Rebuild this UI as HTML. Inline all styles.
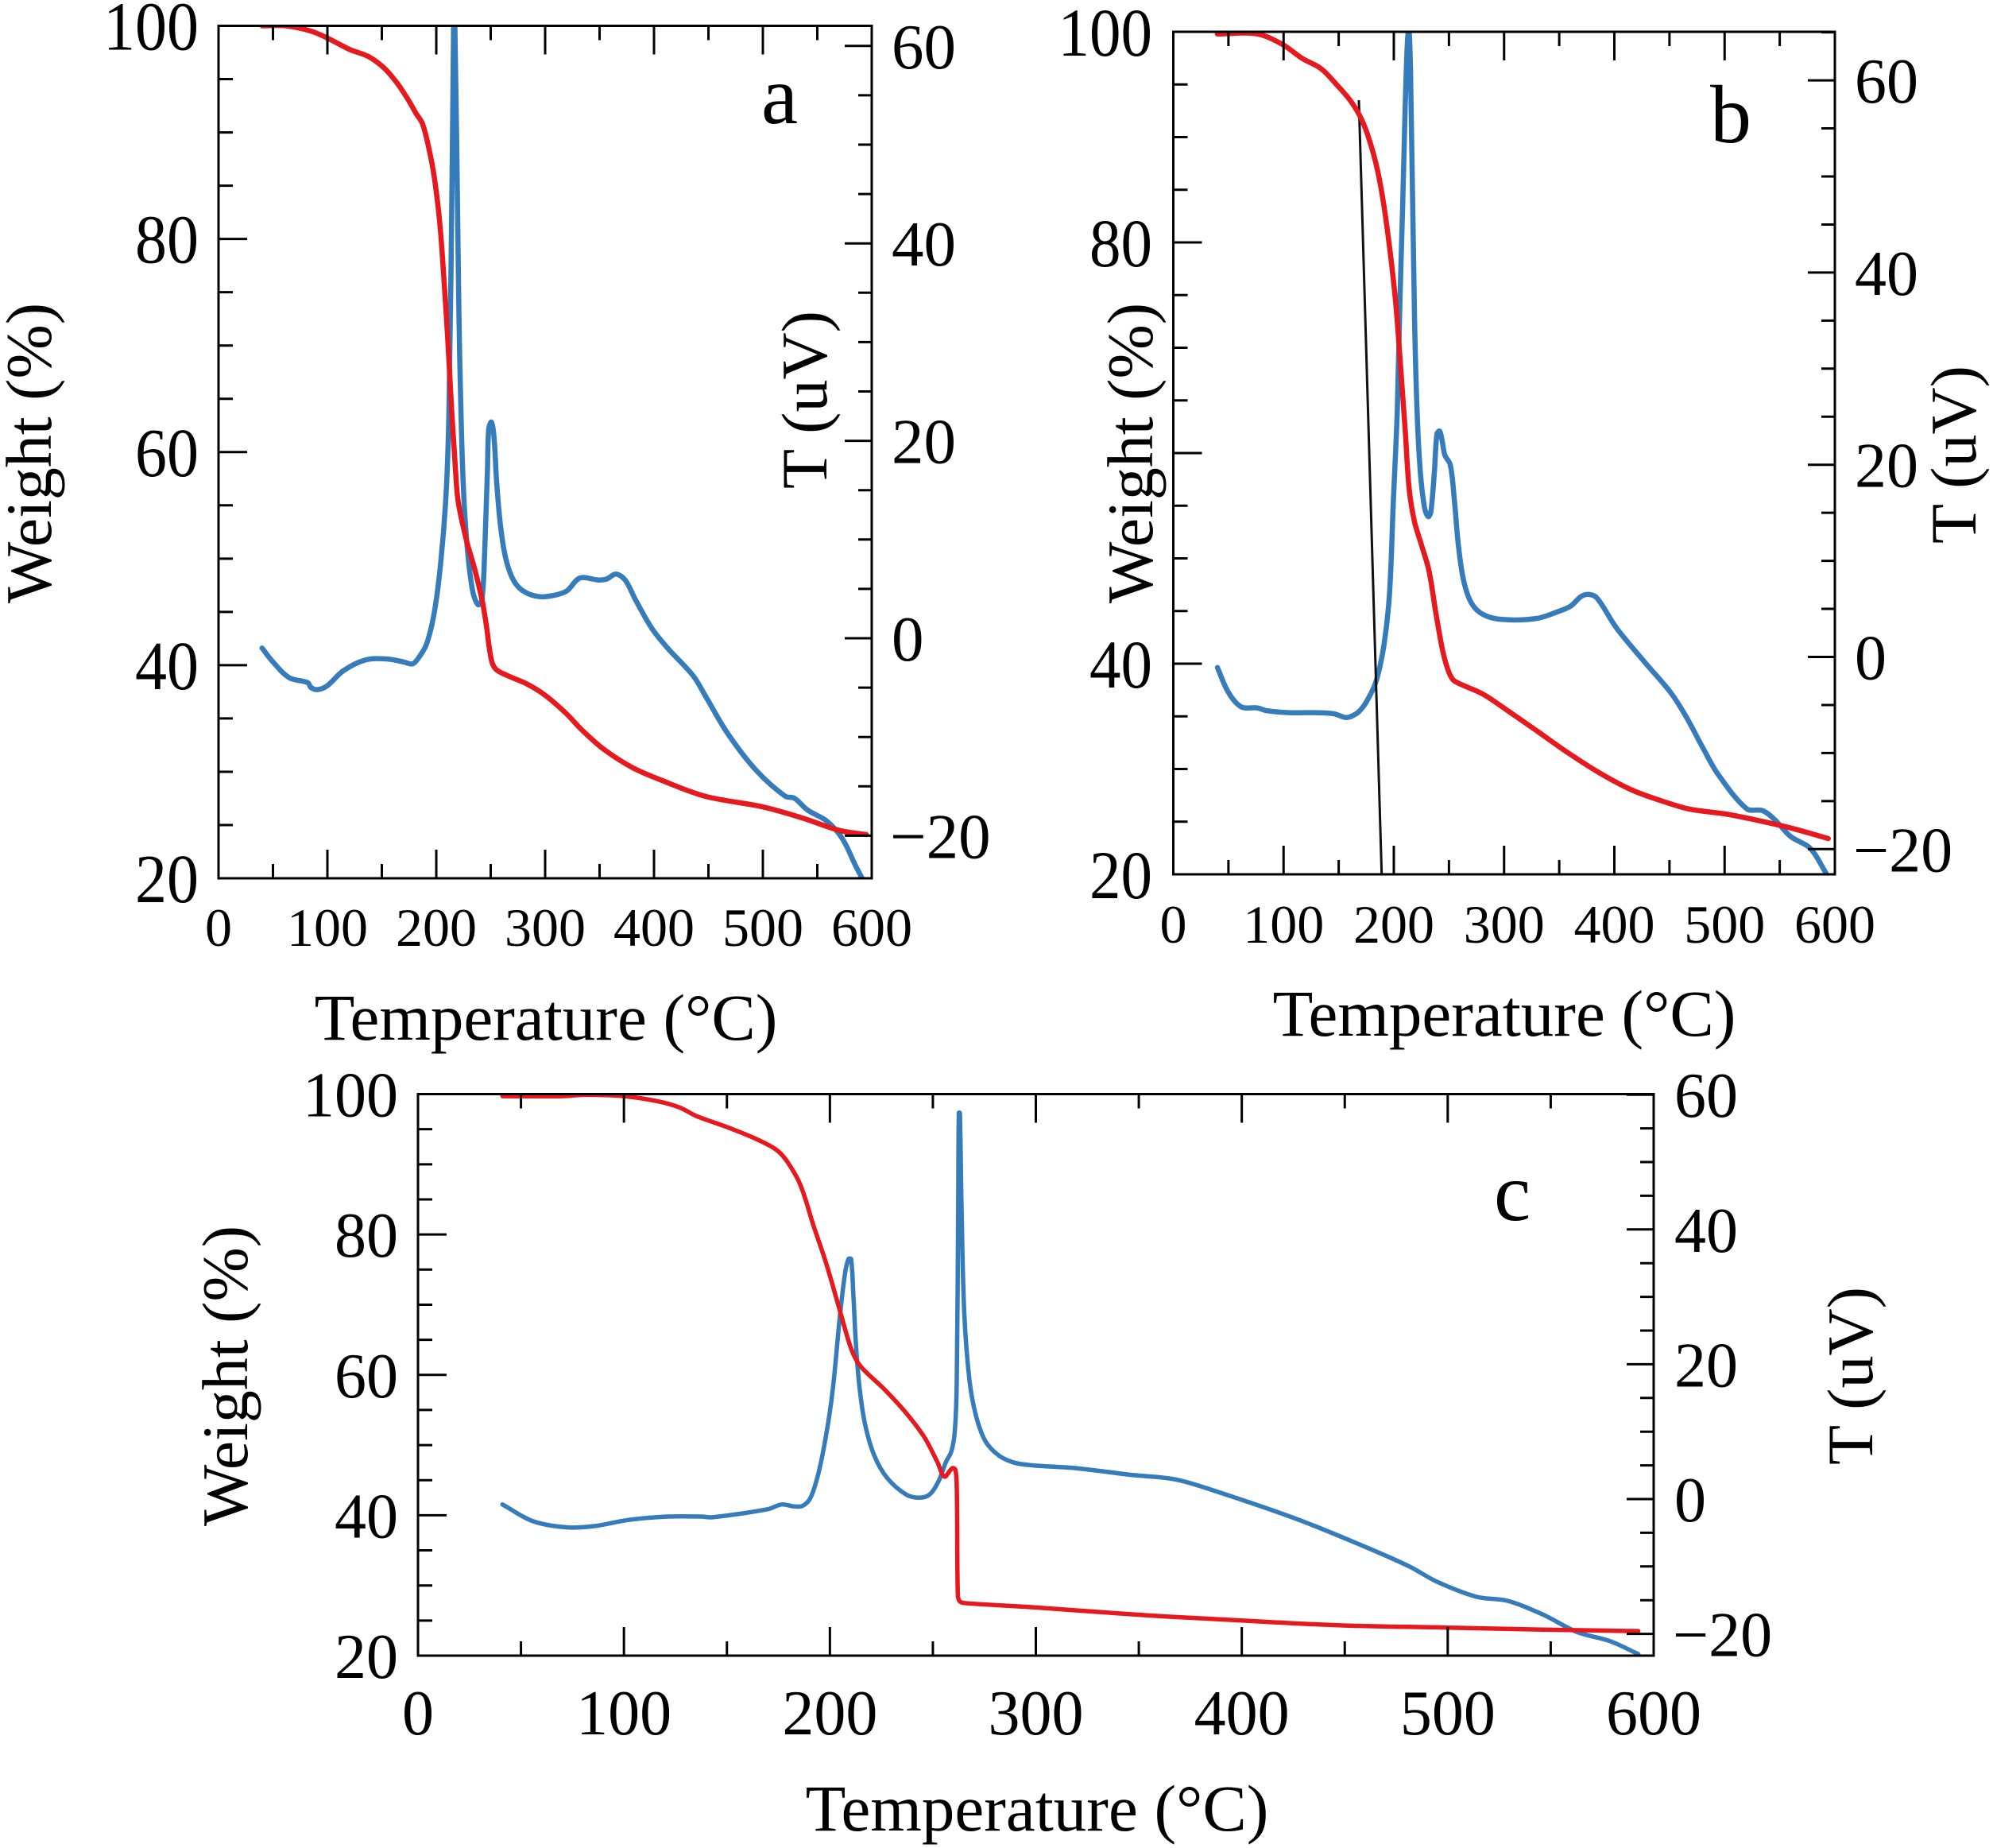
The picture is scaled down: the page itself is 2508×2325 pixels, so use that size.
<!DOCTYPE html>
<html>
<head>
<meta charset="utf-8">
<title>TGA and DTA curves</title>
<style>
html,body{margin:0;padding:0;background:#fff;}
svg{display:block;}
text{font-family:"Liberation Serif",serif;fill:#000;}
</style>
</head>
<body>
<svg id="chart" xmlns="http://www.w3.org/2000/svg" width="2508" height="2325" viewBox="0 0 2508 2325"></svg>
<script>
const xTicks = [0, 100, 200, 300, 400, 500, 600];
const weightTicks = [20, 40, 60, 80, 100];
const weightTicksPanelB = [20, 40, 80, 100];
const tempTicks = [-20, 0, 20, 40, 60];

const aRedX = [40,62,85,103,120,138,152.5,164.2,174,181.3,187.4,193.4,198.3,203.2,206.8,210.4,214.1,217.7,220.2,227.5,234.8,242.1,245.8,250.6,255,266,284,301,319,334,354,380,407,447,500,535,570,595];
const aRedW = [100,100,99.5,98.7,97.8,97.1,96,94.6,93.1,91.8,90.8,88.4,85.7,81.5,76.6,70.9,64,58.3,55.3,51.8,49.2,46.1,43.9,40.5,39.6,39,38.2,37.1,35.5,33.9,32.1,30.4,29.2,27.7,26.7,25.7,24.5,24.1];
const aBlueX = [40,50,65,82,85,91,100,114.5,135,155,170,178,183,191,198.3,204.4,209.2,211.7,213.6,214.8,215.8,216.4,217.3,218.8,220.7,222.6,225,228.7,233.6,238.4,242,244.5,247,248.2,250.6,253,255.5,259.1,264,271.3,281,295.6,310.2,320,332,349,356.4,365,373.5,383,398,412.5,436,447.5,468,494,520.5,529,541,558.5,573,585,593.5];
const aBlueT = [-1,-2.4,-4,-4.5,-5,-5.2,-4.8,-3.3,-2.2,-2.1,-2.4,-2.6,-2.1,-0.6,2.7,8,15,23.2,37.6,49.9,60.6,66,60.6,49.9,33.5,23.2,15,8.9,4.7,3.4,3.9,8.9,17,21.2,21.9,20.4,15.8,11.3,8,5.8,4.7,4.2,4.4,4.8,6.1,5.9,6,6.5,5.9,3.9,1,-1,-3.8,-5.9,-9.7,-13.4,-16,-16.2,-17.4,-18.5,-20.3,-23,-24.8];

const bRedX = [40,76,99,116.5,134,148,161,170.7,177.9,185.1,191.1,197.1,202,206.7,210.3,213.9,218.7,224.7,231.9,238,244,248.8,253.5,259.6,281,305.2,330,358.5,387,416,445,468,502.6,531,560,594];
const bRedW = [99.8,99.8,98.8,97.5,96.5,95,93.4,91.7,89.7,86.9,83.4,78.7,73.9,67.4,62.2,56.6,53.5,51.4,48.8,44.9,41.4,39.5,38.5,38.1,37.1,35.4,33.6,31.5,29.6,28,26.9,26.2,25.7,25.1,24.4,23.4];
const bBlueX = [40,50,61.7,76,85,105,128,145,156,161,168.3,175.5,184,191.1,196,199.5,203.1,205.6,208,210.3,212.3,213.7,215.1,216.8,218.8,221.1,224,227.9,231.2,233.6,236.8,239.1,241.6,244,246.3,251.2,254.8,258.4,263.2,270.4,281.2,298,329.2,348.5,360.5,370,377.3,384.5,402,428,451,465,480,494,520,534.5,546,560,577.6,592];
const bBlueT = [-1.1,-3.7,-5.2,-5.3,-5.6,-5.8,-5.8,-5.9,-6.3,-6.2,-5.7,-4.6,-2.5,1.3,6.5,16,25.5,37.4,46.9,57.3,64,65.4,61.1,49.3,35,25.5,19.3,15.5,14.6,15.1,19.3,23.2,23.5,22.4,21,20,16.5,11.8,8,5.6,4.4,3.9,4,4.7,5.3,6.3,6.5,6.1,3,-0.6,-3.7,-6.2,-9.4,-12.2,-15.8,-16,-17,-18.7,-19.9,-22.5];
const bTangentX = [168.3, 189];
const bTangentW = [93.5, 20];

const cRedX = [41,70,81,100,116,127,135,151,165,175.5,182.9,186.8,191.9,198.3,204.8,210.6,215,226.6,236.9,245.9,252.3,255.6,259.4,260.9,261.6,262.1,262.9,265.2,298.6,351,400,449,500,546,592.5];
const cRedW = [99.7,99.7,99.9,99.7,99,98.1,96.9,95.2,93.5,91.7,88.7,86.2,81.4,75.8,69.2,63.5,61.2,57.9,54.6,51.1,47.5,45.5,46.7,46.5,44,28.8,27.8,27.5,26.9,25.8,25,24.3,24,23.7,23.5];
const cBlueX = [41,56,72.5,86,102,121,137.5,143,170,176.5,182.9,186.8,190.6,194.5,198.3,201.5,204.8,207.3,209,210.3,211.4,212.7,214.4,217,221.5,227.9,236.9,243.3,248.5,253,256.2,259,260.7,261.6,262.3,262.6,263.1,263.9,265.2,267.8,271,275.5,281.9,289.6,298.6,319,346,368,389,427,460,481.4,495,514,529,546,562.6,579,592.5];
const cBlueT = [-0.8,-3.3,-4.2,-4,-3.1,-2.6,-2.6,-2.7,-1.5,-0.8,-1.1,-1,0.2,3.9,9.7,16.5,27,33.4,35.6,35.6,30.2,22.8,16.5,11.2,6.5,3.1,0.7,0.2,0.7,2.8,5.4,7.1,10.2,17.6,43.9,57.3,57.3,43.9,28,17.6,12.3,8.6,6.5,5.4,5,4.6,3.6,2.9,1,-3,-7.1,-10,-12.3,-14.5,-15.1,-17.1,-19.7,-21.1,-23];

const NS = 'http://www.w3.org/2000/svg';
const root = document.getElementById('chart');

function make(parent, tag, attrs, content) {
  const el = document.createElementNS(NS, tag);
  for (const k in attrs) el.setAttribute(k, attrs[k]);
  if (content !== undefined) el.textContent = content;
  parent.appendChild(el);
  return el;
}
function fmt(v) { return v < 0 ? '\u2212' + Math.abs(v) : String(v); }

// Chord-parameterised spline through the points
function smoothPath(xs, ys, sx, sy) {
  const pts = xs.map((x, i) => [sx(x), sy(ys[i])]);
  const n = pts.length;
  const dist = (a, b) => Math.max(Math.hypot(a[0] - b[0], a[1] - b[1]), 0.01);
  const tan = pts.map((p, i) => {
    const a = pts[Math.max(i - 1, 0)];
    const b = pts[Math.min(i + 1, n - 1)];
    const d = (i > 0 ? dist(a, p) : 0) + (i < n - 1 ? dist(p, b) : 0);
    return [(b[0] - a[0]) / d, (b[1] - a[1]) / d];
  });
  let d = 'M' + pts[0][0].toFixed(1) + ' ' + pts[0][1].toFixed(1);
  for (let i = 0; i < n - 1; i++) {
    const len = dist(pts[i], pts[i + 1]) / 3;
    const c1x = pts[i][0] + tan[i][0] * len;
    const c1y = pts[i][1] + tan[i][1] * len;
    const c2x = pts[i + 1][0] - tan[i + 1][0] * len;
    const c2y = pts[i + 1][1] - tan[i + 1][1] * len;
    d += 'C' + c1x.toFixed(1) + ' ' + c1y.toFixed(1) + ' ' + c2x.toFixed(1) + ' ' + c2y.toFixed(1) + ' ' + pts[i + 1][0].toFixed(1) + ' ' + pts[i + 1][1].toFixed(1);
  }
  return d;
}

function drawPanel(p) {
  const g = make(root, 'g', {});
  
  

  const sx = v => p.left + (v - 0) / 600 * (p.right - p.left);
  const sw = v => p.bottom - (v - 20) / 80 * (p.bottom - p.top);
  const st = v => p.t0y - v * p.tScale;

  const clipId = 'clip-' + p.id;
  const defs = make(g, 'defs', {});
  const cp = make(defs, 'clipPath', { id: clipId });
  make(cp, 'rect', { x: p.left, y: p.top - 1, width: p.right - p.left, height: p.bottom - p.top + 2 });

  const blue = make(g, 'path', { d: smoothPath(p.blueX, p.blueT, sx, st), fill: 'none', stroke: '#377cba', 'stroke-width': p.blueW, 'stroke-linejoin': 'round', 'stroke-linecap': 'round', 'clip-path': 'url(#' + clipId + ')' });
  
  

  if (p.tanX) {
    const tan = make(g, 'path', { d: smoothPath(p.tanX, p.tanW, sx, sw), fill: 'none', stroke: '#111', 'stroke-width': 3 });
    
    
  }

  const red = make(g, 'path', { d: smoothPath(p.redX, p.redW, sx, sw), fill: 'none', stroke: '#e61a1e', 'stroke-width': p.redWidth, 'stroke-linejoin': 'round', 'stroke-linecap': 'round', 'clip-path': 'url(#' + clipId + ')' });
  
  

  const ticks = make(g, 'g', { stroke: '#000', 'stroke-width': 3 });
  
  

  xTicks.forEach((v, i) => {
    const x = sx(v);
    make(ticks, 'line', { x1: x, x2: x, y1: p.bottom, y2: p.bottom - 36 });
    make(ticks, 'line', { x1: x, x2: x, y1: p.top, y2: p.top + 36 });
    if (i < xTicks.length - 1) {
      const m = sx((v + xTicks[i + 1]) / 2);
      make(ticks, 'line', { x1: m, x2: m, y1: p.bottom, y2: p.bottom - 18 });
      make(ticks, 'line', { x1: m, x2: m, y1: p.top, y2: p.top + 18 });
    }
    const t = make(g, 'text', { x: x, y: p.xLabelY, 'font-size': p.xFont, 'text-anchor': 'middle' }, fmt(v));
    
    
  });

  // left ticks: major every labelled value, minor every quarter interval
  weightTicks.forEach((v, i) => {
    const y = sw(v);
    make(ticks, 'line', { x1: p.left, x2: p.left + 36, y1: y, y2: y });
    if (i < weightTicks.length - 1) {
      const step = (weightTicks[i + 1] - v) / 4;
      for (let k = 1; k < 4; k++) {
        const m = sw(v + k * step);
        make(ticks, 'line', { x1: p.left, x2: p.left + 18, y1: m, y2: m });
      }
    }
  });
  p.leftLabels.forEach(v => {
    const y = sw(v);
    const t = make(g, 'text', { transform: 'translate(' + p.leftLabelX + ',' + (y + p.leftDy) + ') scale(1,' + p.leftStretch + ')', 'font-size': p.leftFont, 'text-anchor': 'end' }, fmt(v));
    
    
  });

  // right ticks: major at labelled values, minor every quarter interval across the visible range
  const tTop = (p.t0y - p.top) / p.tScale;
  const tBottom = (p.t0y - p.bottom) / p.tScale;
  const tStep = (tempTicks[1] - tempTicks[0]) / 4;
  for (let k = Math.ceil(tBottom / tStep); k * tStep <= tTop; k++) {
    const v = k * tStep;
    const y = st(v);
    const major = tempTicks.indexOf(v) >= 0;
    make(ticks, 'line', { x1: p.right, x2: p.right - (major ? 34 : 17), y1: y, y2: y });
  }
  tempTicks.forEach(v => {
    const t = make(g, 'text', { x: v < 0 ? p.rightLabelX - 2 : p.rightLabelX, y: st(v) + 28, 'font-size': p.rightFont }, fmt(v));
    
    
  });

  const frame = make(g, 'rect', { x: p.left, y: p.top, width: p.right - p.left, height: p.bottom - p.top, fill: 'none', stroke: '#000', 'stroke-width': 3 });
  
  

  const xTitle = make(g, 'text', { x: p.xTitleX, y: p.xTitleY, 'font-size': 83, 'text-anchor': 'middle' }, 'Temperature (\u00b0C)');
  
  

  const wTitle = make(g, 'text', { transform: 'translate(' + p.wTitleX + ',' + p.wTitleY + ') rotate(-90)', 'font-size': 82, 'text-anchor': 'middle' }, 'Weight (%)');
  
  

  const tTitle = make(g, 'text', { transform: 'translate(' + p.tTitleX + ',' + p.tTitleY + ') rotate(-90)', 'font-size': 82, 'text-anchor': 'middle' }, 'T (uV)');
  
  

  const letter = make(g, 'text', { x: p.letterX, y: p.letterY, 'font-size': 104 }, p.id);
  
  
}

drawPanel({
  id: 'a', left: 275, right: 1097, top: 32.5, bottom: 1105, t0y: 803, tScale: 12.42,
  redX: aRedX, redW: aRedW, blueX: aBlueX, blueT: aBlueT, blueW: 6.5, redWidth: 6.5,
  leftLabels: weightTicks, leftStretch: 1.08, leftDy: 30,
  xLabelY: 1190, xFont: 68, leftLabelX: 250, leftFont: 80, rightLabelX: 1122, rightFont: 81,
  xTitleX: 687, xTitleY: 1308, wTitleX: 64, wTitleY: 570, tTitleX: 1040, tTitleY: 503,
  letterX: 958, letterY: 155
});
drawPanel({
  id: 'b', left: 1476.5, right: 2309, top: 40, bottom: 1100, t0y: 826.5, tScale: 12.09,
  redX: bRedX, redW: bRedW, blueX: bBlueX, blueT: bBlueT, blueW: 6.5, redWidth: 6.5,
  tanX: bTangentX, tanW: bTangentW,
  leftLabels: weightTicksPanelB, leftStretch: 1.08, leftDy: 30,
  xLabelY: 1186, xFont: 68, leftLabelX: 1450, leftFont: 79, rightLabelX: 2334, rightFont: 80,
  xTitleX: 1893, xTitleY: 1303, wTitleX: 1450, wTitleY: 570, tTitleX: 2486, tTitleY: 572,
  letterX: 2152, letterY: 179
});
drawPanel({
  id: 'c', left: 526, right: 2081, top: 1376.5, bottom: 2083, t0y: 1886, tScale: 8.48,
  redX: cRedX, redW: cRedW, blueX: cBlueX, blueT: cBlueT, blueW: 5.5, redWidth: 5.5,
  leftLabels: weightTicks, leftStretch: 1, leftDy: 28,
  xLabelY: 2182, xFont: 80, leftLabelX: 501, leftFont: 80, rightLabelX: 2107, rightFont: 80,
  xTitleX: 1305, xTitleY: 2303, wTitleX: 311, wTitleY: 1731, tTitleX: 2356, tTitleY: 1731,
  letterX: 1880, letterY: 1535
});
</script>
</body>
</html>
